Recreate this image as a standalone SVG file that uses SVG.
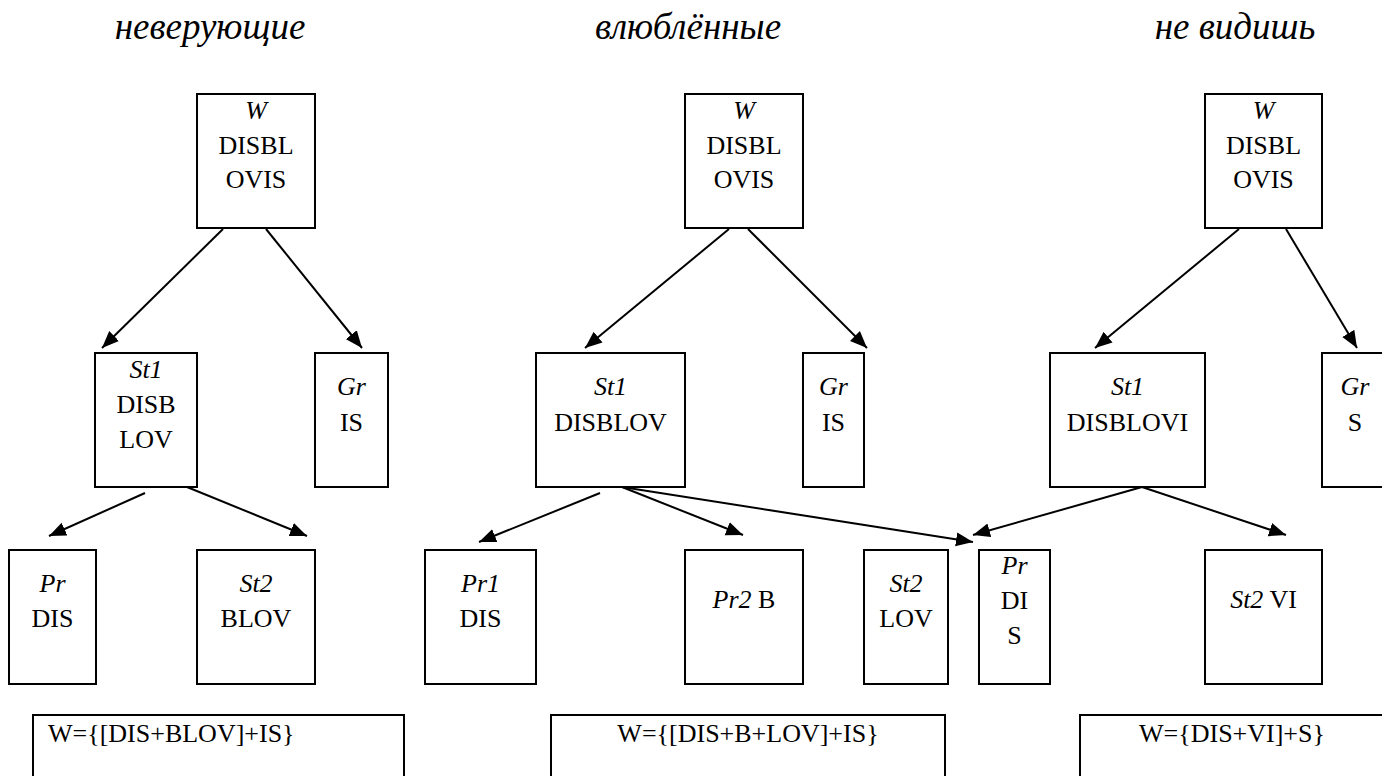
<svg xmlns="http://www.w3.org/2000/svg" width="1382" height="776" viewBox="0 0 1382 776">
  <defs>
    <marker id="arrow" markerUnits="userSpaceOnUse" markerWidth="18" markerHeight="15" refX="17" refY="7.5" orient="auto">
      <path d="M0,0.5 L17,7.5 L0,14.5 z" fill="#000"/>
    </marker>
    <style>
      .box { fill: #fff; stroke: #000; stroke-width: 2; }
      .edge { stroke: #000; stroke-width: 2; fill: none; marker-end: url(#arrow); }
      text { font-family: 'Liberation Serif', 'Times New Roman', serif; fill: #000; }
      .t { font-size: 26px; text-anchor: middle; }
      .l { text-anchor: start; }
      .i { font-style: italic; }
      .title { font-size: 37px; font-style: italic; text-anchor: middle; }
    </style>
  </defs>
  <rect width="1382" height="776" fill="#fff"/>

  <!-- column titles -->
  <g id="titles">
    <text class="title" x="210" y="39">неверующие</text>
    <text class="title" x="688" y="39">влюблённые</text>
    <text class="title" x="1235" y="39">не видишь</text>
  </g>

  <!-- connectors -->
  <g id="connectors">
    <line class="edge" x1="223" y1="229" x2="102" y2="348"/>
    <line class="edge" x1="266" y1="229" x2="362" y2="348"/>
    <line class="edge" x1="145" y1="493" x2="49" y2="536"/>
    <line class="edge" x1="187" y1="487" x2="307" y2="536"/>

    <line class="edge" x1="729" y1="229" x2="585" y2="348"/>
    <line class="edge" x1="748" y1="229" x2="867" y2="348"/>
    <line class="edge" x1="600" y1="493" x2="479" y2="542"/>
    <line class="edge" x1="622" y1="487" x2="743" y2="535"/>
    <line class="edge" x1="622" y1="487" x2="973" y2="542"/>

    <line class="edge" x1="1239" y1="229" x2="1095" y2="348"/>
    <line class="edge" x1="1286" y1="229" x2="1357" y2="348"/>
    <line class="edge" x1="1142" y1="487" x2="973" y2="535"/>
    <line class="edge" x1="1142" y1="487" x2="1286" y2="535"/>
  </g>

  <!-- left tree: неверующие -->
  <g id="w1">
    <rect class="box" x="197" y="94" width="118" height="134"/>
    <text class="t i" x="256" y="119">W</text>
    <text class="t" x="256" y="154">DISBL</text>
    <text class="t" x="256" y="188">OVIS</text>
  </g>
  <g id="st1-left">
    <rect class="box" x="95" y="353" width="102" height="134"/>
    <text class="t i" x="146" y="378">St1</text>
    <text class="t" x="146" y="413">DISB</text>
    <text class="t" x="146" y="448">LOV</text>
  </g>
  <g id="gr-left">
    <rect class="box" x="315" y="353" width="73" height="134"/>
    <text class="t i" x="351.5" y="395">Gr</text>
    <text class="t" x="351.5" y="431">IS</text>
  </g>
  <g id="pr-left">
    <rect class="box" x="9" y="550" width="87" height="134"/>
    <text class="t i" x="52.5" y="592">Pr</text>
    <text class="t" x="52.5" y="627">DIS</text>
  </g>
  <g id="st2-left">
    <rect class="box" x="197" y="550" width="118" height="134"/>
    <text class="t i" x="256" y="592">St2</text>
    <text class="t" x="256" y="627">BLOV</text>
  </g>
  <g id="formula-left">
    <rect class="box" x="33" y="715" width="371" height="80"/>
    <text class="t l" x="48" y="742">W={[DIS+BLOV]+IS}</text>
  </g>

  <!-- middle tree: влюблённые -->
  <g id="w2">
    <rect class="box" x="685" y="94" width="118" height="134"/>
    <text class="t i" x="744" y="119">W</text>
    <text class="t" x="744" y="154">DISBL</text>
    <text class="t" x="744" y="188">OVIS</text>
  </g>
  <g id="st1-mid">
    <rect class="box" x="536" y="353" width="149" height="134"/>
    <text class="t i" x="610.5" y="395">St1</text>
    <text class="t" x="610.5" y="431">DISBLOV</text>
  </g>
  <g id="gr-mid">
    <rect class="box" x="803" y="353" width="61" height="134"/>
    <text class="t i" x="833.5" y="395">Gr</text>
    <text class="t" x="833.5" y="431">IS</text>
  </g>
  <g id="pr1-mid">
    <rect class="box" x="425" y="550" width="111" height="134"/>
    <text class="t i" x="480.5" y="592">Pr1</text>
    <text class="t" x="480.5" y="627">DIS</text>
  </g>
  <g id="pr2-mid">
    <rect class="box" x="685" y="550" width="118" height="134"/>
    <text class="t" x="744" y="608"><tspan class="i">Pr2</tspan> B</text>
  </g>
  <g id="st2-mid">
    <rect class="box" x="864" y="550" width="84" height="134"/>
    <text class="t i" x="906" y="592">St2</text>
    <text class="t" x="906" y="627">LOV</text>
  </g>
  <g id="formula-mid">
    <rect class="box" x="551" y="715" width="394" height="80"/>
    <text class="t" x="748" y="742">W={[DIS+B+LOV]+IS}</text>
  </g>

  <!-- right tree: не видишь -->
  <g id="w3">
    <rect class="box" x="1205" y="94" width="117" height="134"/>
    <text class="t i" x="1263.5" y="119">W</text>
    <text class="t" x="1263.5" y="154">DISBL</text>
    <text class="t" x="1263.5" y="188">OVIS</text>
  </g>
  <g id="st1-right">
    <rect class="box" x="1050" y="353" width="155" height="134"/>
    <text class="t i" x="1127.5" y="395">St1</text>
    <text class="t" x="1127.5" y="431">DISBLOVI</text>
  </g>
  <g id="gr-right">
    <rect class="box" x="1322" y="353" width="68" height="134"/>
    <text class="t i" x="1355" y="395">Gr</text>
    <text class="t" x="1355" y="431">S</text>
  </g>
  <g id="pr-right">
    <rect class="box" x="979" y="550" width="71" height="134"/>
    <text class="t i" x="1014.5" y="574">Pr</text>
    <text class="t" x="1014.5" y="609">DI</text>
    <text class="t" x="1014.5" y="644">S</text>
  </g>
  <g id="st2-right">
    <rect class="box" x="1205" y="550" width="117" height="134"/>
    <text class="t" x="1263.5" y="608"><tspan class="i">St2</tspan> VI</text>
  </g>
  <g id="formula-right">
    <rect class="box" x="1080" y="715" width="304" height="80"/>
    <text class="t" x="1232" y="742">W={DIS+VI]+S}</text>
  </g>
</svg>
